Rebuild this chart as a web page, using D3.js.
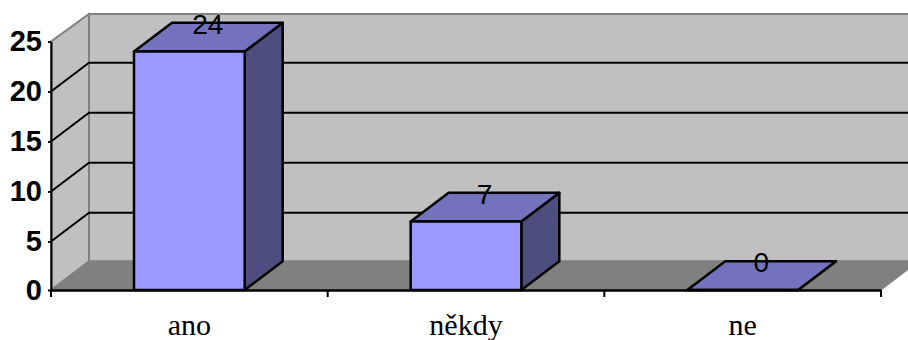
<!DOCTYPE html>
<html><head><meta charset="utf-8">
<script src="https://cdnjs.cloudflare.com/ajax/libs/d3/7.8.5/d3.min.js"></script>
<style>html,body{margin:0;padding:0;background:#fff}svg{display:block}</style>
</head><body><svg id="c" width="908" height="340"></svg>
<script>
const categories = ["ano", "někdy", "ne"];
const values = [24, 7, 0];
const yTicks = [0, 5, 10, 15, 20, 25];

const dx = 38, dy = -28.7;
const x = d3.scaleBand().domain(categories).range([51, 881]).paddingInner(0.6).paddingOuter(0.3);
const band = d3.scaleBand().domain(categories).range([51, 881]);
const y = d3.scaleLinear().domain([0, 5, 25]).range([290, 241.5, 41.5]);
const svg = d3.select("#c");
const poly = pts => "M" + pts.map(p => p.join(",")).join("L") + "Z";
const x0 = 51, x1 = 881;
const y0 = y(0), yT = y(25), wallTop = yT + dy + 1.2;

// walls and floor
svg.append("path").attr("d", poly([[x0+dx,y0+dy],[x1+dx,y0+dy],[x1+dx,wallTop],[x0+dx,wallTop]]))
  .attr("fill", "#c0c0c0").attr("stroke", "#808080").attr("stroke-width", 2);
svg.append("path").attr("d", poly([[x0,y0],[x0+dx,y0+dy],[x0+dx,wallTop],[x0,yT]]))
  .attr("fill", "#c0c0c0").attr("stroke", "#808080").attr("stroke-width", 2);
svg.append("path").attr("d", poly([[x0,y0],[x1,y0],[x1+dx,y0+dy],[x0+dx,y0+dy]]))
  .attr("fill", "#808080").attr("stroke", "#808080").attr("stroke-width", 1);

// gridlines
yTicks.filter(t => t > 0 && t < 25).forEach(t => {
  svg.append("path").attr("d", `M${x0},${y(t)}L${x0+dx},${y(t)+dy}L${x1+dx},${y(t)+dy}`)
    .attr("fill", "none").attr("stroke", "#000").attr("stroke-width", 2);
});

// axes
const yAxis = d3.axisLeft(y).tickValues(yTicks).tickSize(3).tickSizeOuter(0).tickPadding(6);
const gy = svg.append("g").attr("transform", `translate(${x0},0)`).call(yAxis);
gy.selectAll("path,line").attr("stroke", "#000").attr("stroke-width", 2);
gy.selectAll("text").attr("font-family", "Liberation Sans").attr("font-weight", "bold")
  .attr("font-size", 29).attr("fill", "#000");

const xAxis = d3.axisBottom(band).tickSize(0).tickPadding(24).tickSizeOuter(0);
const gx = svg.append("g").attr("transform", `translate(0,${y0})`).call(xAxis);
gx.select("path").attr("stroke", "#000").attr("stroke-width", 2.4);
gx.selectAll("text").attr("font-family", "Liberation Serif").attr("font-size", 30).attr("fill", "#000");
const edges = categories.map(c => band(c)).concat([x1]);
svg.append("g").selectAll("line").data(edges).join("line")
  .attr("x1", d => d).attr("x2", d => d).attr("y1", y0).attr("y2", y0 + 7)
  .attr("stroke", "#000").attr("stroke-width", 2);

// bars
const bars = svg.append("g").selectAll("g").data(categories.map((c, i) => ({c, v: values[i]}))).join("g")
  .attr("stroke", "#000").attr("stroke-width", 2.5).attr("stroke-linejoin", "round");
bars.append("path").attr("d", d => { const l = x(d.c), r = l + x.bandwidth(), t = y(d.v);
  return poly([[r,y0],[r+dx,y0+dy],[r+dx,t+dy],[r,t]]); }).attr("fill", "#4d4d80");
bars.append("path").attr("d", d => { const l = x(d.c), r = l + x.bandwidth(), t = y(d.v);
  return poly([[l,t],[r,t],[r+dx,t+dy],[l+dx,t+dy]]); }).attr("fill", "#7373bd");
bars.append("path").attr("d", d => { const l = x(d.c), r = l + x.bandwidth(), t = y(d.v);
  return poly([[l,t],[r,t],[r,y0],[l,y0]]); }).attr("fill", d => d.v > 0 ? "#9999ff" : "none");

// data labels
svg.append("g").selectAll("text").data(categories.map((c, i) => ({c, v: values[i]}))).join("text")
  .attr("x", d => x(d.c) + x.bandwidth() / 2 + dx / 2 - 0.5)
  .attr("y", d => y(d.v) + dy + 11)
  .attr("text-anchor", "middle").attr("font-family", "Liberation Sans").attr("font-size", 28)
  .attr("fill", "#000").text(d => d.v);
</script></body></html>
